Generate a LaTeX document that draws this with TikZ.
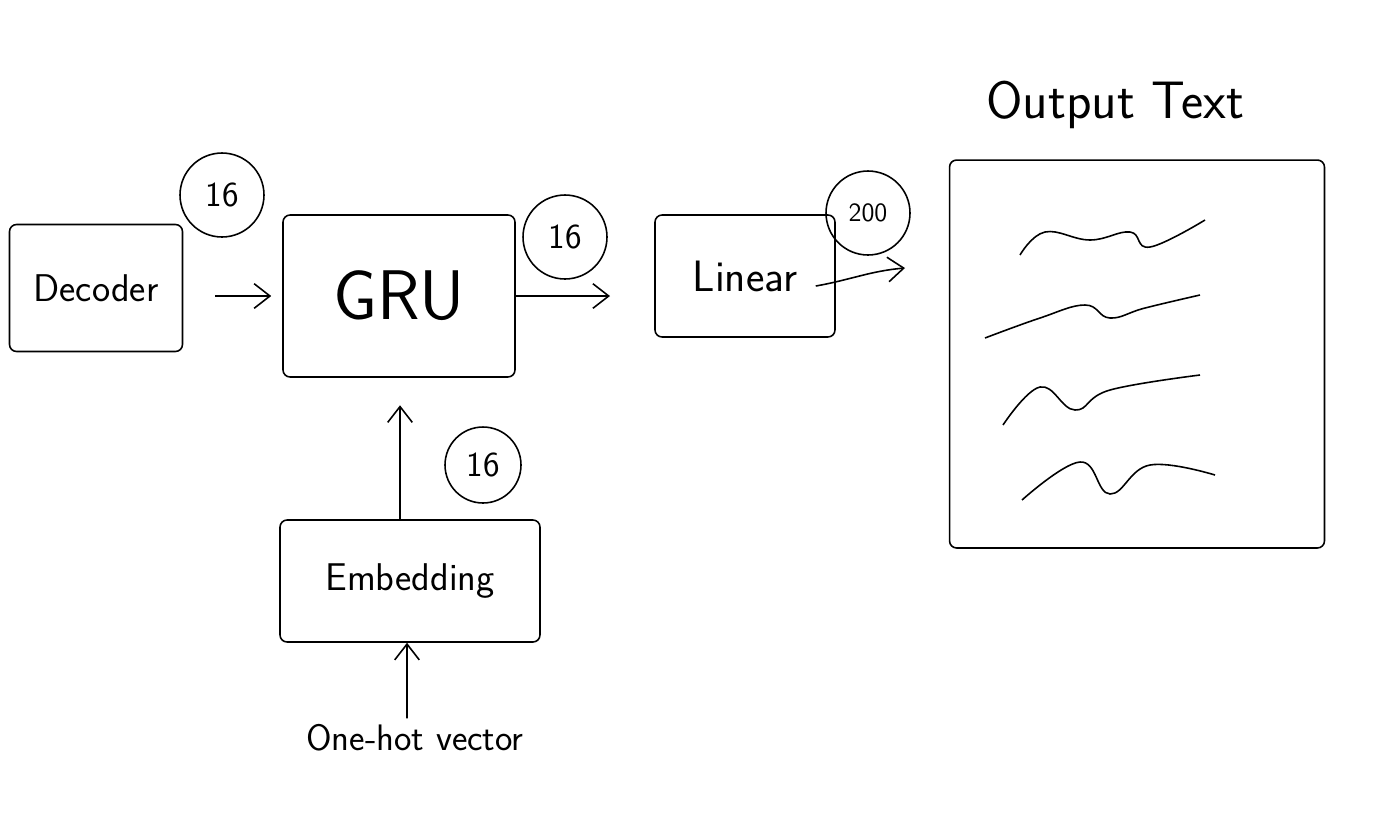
\documentclass[tikz,border=0pt]{standalone}
\usetikzlibrary{arrows.meta,positioning}
\begin{document}
\begin{tikzpicture}[
  x=0.02cm, y=-0.02cm,
  block/.style={rectangle, draw, rounded corners=4pt, line width=0.9pt, inner sep=0pt},
  dim/.style={circle, draw, line width=0.9pt, minimum size=1.68cm, inner sep=0pt, font=\sffamily\fontsize{20}{24}\selectfont},
  hand/.style={font=\sffamily\fontsize{22}{26}\selectfont},
  flow/.style={-{Straight Barb[length=9pt,width=14pt]}, line width=0.9pt},
  wave/.style={line width=0.9pt}
]
\useasboundingbox (0,0) rectangle (1381,829);
\fill[white] (0,0) rectangle (1381,829);

\node[block, hand, minimum width=3.46cm, minimum height=2.54cm] (decoder) at (96,288) {Decoder};
\node[block, font=\sffamily\fontsize{40}{46}\selectfont, minimum width=4.64cm, minimum height=3.24cm] (gru) at (399,296) {GRU};
\node[block, hand, font=\sffamily\fontsize{25}{30}\selectfont, minimum width=3.6cm, minimum height=2.44cm] (linear) at (745,276) {Linear};
\node[block, hand, minimum width=5.2cm, minimum height=2.44cm] (embed) at (410,581) {Embedding};
\node[hand, font=\sffamily\fontsize{21}{25}\selectfont] (onehot) at (415,738) {One-hot vector};
\node[block, minimum width=7.5cm, minimum height=7.76cm] (output) at (1137,354) {};
\node[hand, font=\sffamily\fontsize{30}{36}\selectfont] (title) at (1115,105) {Output Text};

\node[dim] (d1) at (222,195) {16};
\node[dim] (d2) at (565,237) {16};
\node[dim, font=\sffamily\fontsize{15}{18}\selectfont] (d3) at (868,213) {200};
\node[dim, minimum size=1.52cm] (d4) at (483,465) {16};

\coordinate (linin) at (610,296);
\coordinate (linout) at (905,268);

\draw[flow] ([xshift=0.64cm]decoder.east |- gru.west) -- ([xshift=-0.22cm]gru.west);
\draw[flow] (gru.east) -- (linin);
\draw[flow] ([xshift=-0.4cm,yshift=-0.2cm]linear.east) to[out=10,in=185] (linout);
\draw[flow] ([xshift=-0.2cm]embed.north) -- ([xshift=0.02cm,yshift=-0.55cm]gru.south);
\draw[flow] ([xshift=-0.16cm]onehot.north) -- ([xshift=-0.06cm]embed.south);

% scribbled lines of text
\draw[wave] plot[smooth, tension=0.7] coordinates {(1020,255) (1045,232) (1090,240) (1130,232) (1150,247) (1205,220)};
\draw[wave] plot[smooth, tension=0.7] coordinates {(985,338) (1040,318) (1085,305) (1110,318) (1145,308) (1200,295)};
\draw[wave] plot[smooth, tension=0.7] coordinates {(1003,425) (1040,387) (1075,410) (1110,390) (1200,375)};
\draw[wave] plot[smooth, tension=0.7] coordinates {(1022,500) (1080,462) (1110,494) (1150,465) (1215,475)};
\end{tikzpicture}
\end{document}
